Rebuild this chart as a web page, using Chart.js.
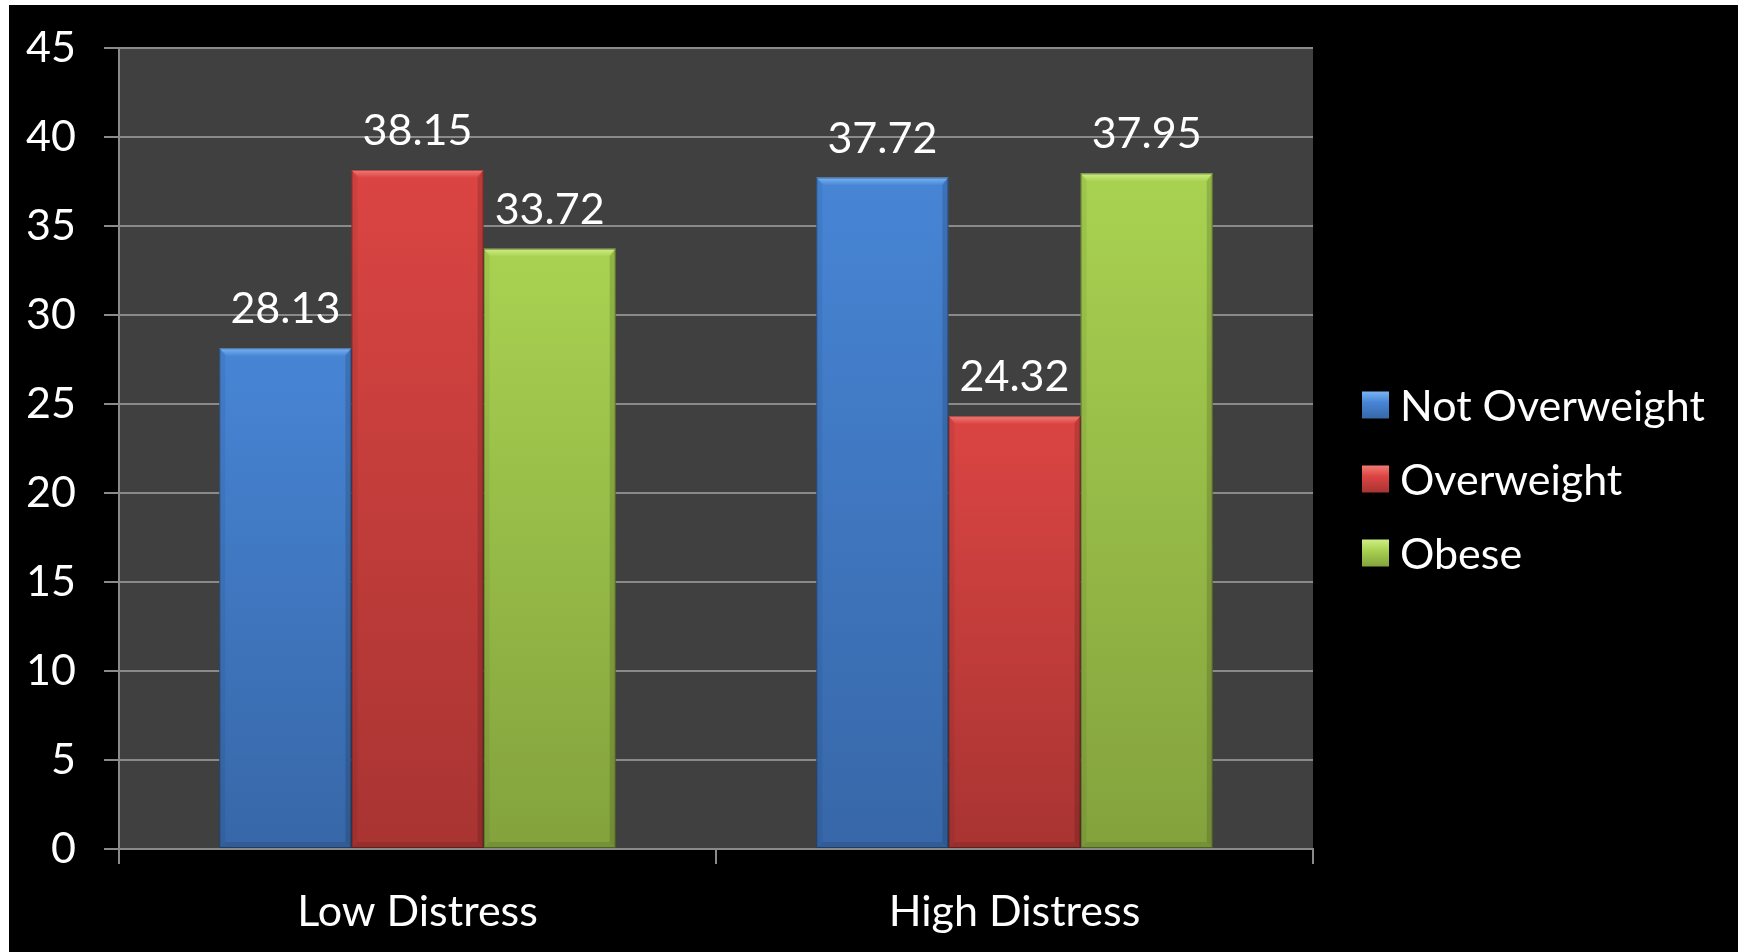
<!DOCTYPE html>
<html>
<head>
<meta charset="utf-8">
<script src="https://cdn.jsdelivr.net/npm/chart.js@4.4.1/dist/chart.umd.min.js"></script>
<style>
  html, body { margin: 0; padding: 0; background: #fff; }
  #frame { position: absolute; left: 9px; top: 5px; width: 1729px; height: 947px; background: #000; }
</style>
</head>
<body>
<div id="frame"><canvas id="c" width="1729" height="947"></canvas></div>
<script>
(function () {
'use strict';

// data
const categories = ['Low Distress', 'High Distress'];
const seriesNames = ['Not Overweight', 'Overweight', 'Obese'];
const notOverweight = [28.13, 37.72];
const overweight = [38.15, 24.32];
const obese = [33.72, 37.95];
const yMax = 45;
const yStep = 5;

const FONT = 'Lato, "Open Sans", sans-serif';
const FS = 43;

// top / bottom / bevel colours per series
const palette = [
    { top: '#4785d5', bottom: '#3767a8', light: '#7ab4f5' },
    { top: '#db4543', bottom: '#a83432', light: '#f27a74' },
    { top: '#a9d251', bottom: '#83a23d', light: '#cfee86' }
];

function barFill(i) {
    return function (ctx) {
        const chart = ctx.chart;
        const pal = palette[i];
        if (!chart.chartArea || ctx.raw == null) return pal.top;
        const y = chart.scales.y;
        const yTop = y.getPixelForValue(ctx.raw);
        const yBot = y.getPixelForValue(0);
        const g = chart.ctx.createLinearGradient(0, yTop, 0, yBot);
        g.addColorStop(0, pal.top);
        g.addColorStop(1, pal.bottom);
        return g;
    };
}

const plotBg = {
    id: 'plotBg',
    beforeDraw(chart) {
        const a = chart.chartArea, c = chart.ctx;
        c.save();
        c.fillStyle = '#404040';
        c.fillRect(a.left, a.top, a.right - a.left, a.bottom - a.top);
        c.restore();
    }
};

// bevel highlight on each bar + value labels
const bevelAndLabels = {
    id: 'bevelAndLabels',
    afterDatasetsDraw(chart) {
        const c = chart.ctx;
        chart.data.datasets.forEach((ds, i) => {
            const meta = chart.getDatasetMeta(i);
            const pal = palette[i];
            meta.data.forEach((bar, j) => {
                const l = bar.x - bar.width / 2, r = bar.x + bar.width / 2;
                const t = bar.y, b = bar.base, bv = 8, sv = 6;
                c.save();
                // top bevel
                const g = c.createLinearGradient(0, t, 0, t + bv);
                g.addColorStop(0, pal.light);
                g.addColorStop(1, pal.top);
                c.fillStyle = g;
                c.beginPath();
                c.moveTo(l, t); c.lineTo(r, t); c.lineTo(r - bv, t + bv); c.lineTo(l + bv, t + bv);
                c.closePath(); c.fill();
                // right side, darker
                c.fillStyle = 'rgba(0,0,0,0.14)';
                c.beginPath();
                c.moveTo(r, t); c.lineTo(r, b); c.lineTo(r - sv, b - sv); c.lineTo(r - sv, t + bv);
                c.closePath(); c.fill();
                // left side, a touch darker
                c.fillStyle = 'rgba(0,0,0,0.06)';
                c.beginPath();
                c.moveTo(l, t); c.lineTo(l, b); c.lineTo(l + sv, b - sv); c.lineTo(l + sv, t + bv);
                c.closePath(); c.fill();
                // bottom bevel
                c.fillStyle = 'rgba(0,0,0,0.10)';
                c.beginPath();
                c.moveTo(l, b); c.lineTo(r, b); c.lineTo(r - sv, b - sv); c.lineTo(l + sv, b - sv);
                c.closePath(); c.fill();
                c.strokeStyle = 'rgba(0,0,0,0.35)';
                c.lineWidth = 1;
                c.strokeRect(l + 0.5, t + 0.5, bar.width - 1, b - t - 1);
                // value label
                c.fillStyle = '#fff';
                c.font = FS + 'px ' + FONT;
                c.textAlign = 'center';
                c.textBaseline = 'alphabetic';
                c.fillText(ds.data[j].toFixed(2), bar.x, t - 25);
                c.restore();
            });
        });
    }
};

// legend on the right
const sideLegend = {
    id: 'sideLegend',
    afterDraw(chart) {
        const c = chart.ctx;
        const x0 = 1353, y0 = 400, gap = 74, box = 27;
        c.save();
        c.font = FS + 'px ' + FONT;
        c.textAlign = 'left';
        c.textBaseline = 'middle';
        chart.data.datasets.forEach((ds, i) => {
            const pal = palette[i];
            const cy = y0 + i * gap;
            const g = c.createLinearGradient(0, cy - box / 2, 0, cy + box / 2);
            g.addColorStop(0, pal.light);
            g.addColorStop(0.4, pal.top);
            g.addColorStop(1, pal.bottom);
            c.fillStyle = g;
            c.fillRect(x0, cy - box / 2, box, box);
            c.fillStyle = '#fff';
            c.fillText(ds.label, x0 + 38, cy + 2);
        });
        c.restore();
    }
};

new Chart(document.getElementById('c'), {
    type: 'bar',
    data: {
        labels: categories,
        datasets: [
            { label: seriesNames[0], data: notOverweight, backgroundColor: barFill(0) },
            { label: seriesNames[1], data: overweight, backgroundColor: barFill(1) },
            { label: seriesNames[2], data: obese, backgroundColor: barFill(2) }
        ]
    },
    options: {
        responsive: false,
        animation: false,
        layout: { padding: { top: 43, right: 425, bottom: 0, left: 0 } },
        datasets: { bar: { categoryPercentage: 0.664, barPercentage: 1, borderWidth: 0 } },
        plugins: { legend: { display: false }, tooltip: { enabled: false } },
        scales: {
            x: {
                grid: { display: true, drawOnChartArea: false, drawTicks: true, tickLength: 15, color: '#8a8a8a', lineWidth: 2 },
                border: { display: true, color: '#8a8a8a', width: 2 },
                ticks: { color: '#fff', font: { family: FONT, size: FS }, padding: 22 },
                afterFit(s) { s.height = 103; s.paddingLeft = 0; s.paddingRight = 0; }
            },
            y: {
                min: 0, max: yMax,
                grid: { color: '#8a8a8a', lineWidth: 2, tickLength: 15 },
                border: { display: true, color: '#8a8a8a', width: 2 },
                ticks: { stepSize: yStep, color: '#fff', font: { family: FONT, size: FS }, padding: 28 },
                afterFit(s) { s.width = 110; s.paddingTop = 0; s.paddingBottom = 0; }
            }
        }
    },
    plugins: [plotBg, bevelAndLabels, sideLegend]
});
})();
</script>
</body>
</html>
